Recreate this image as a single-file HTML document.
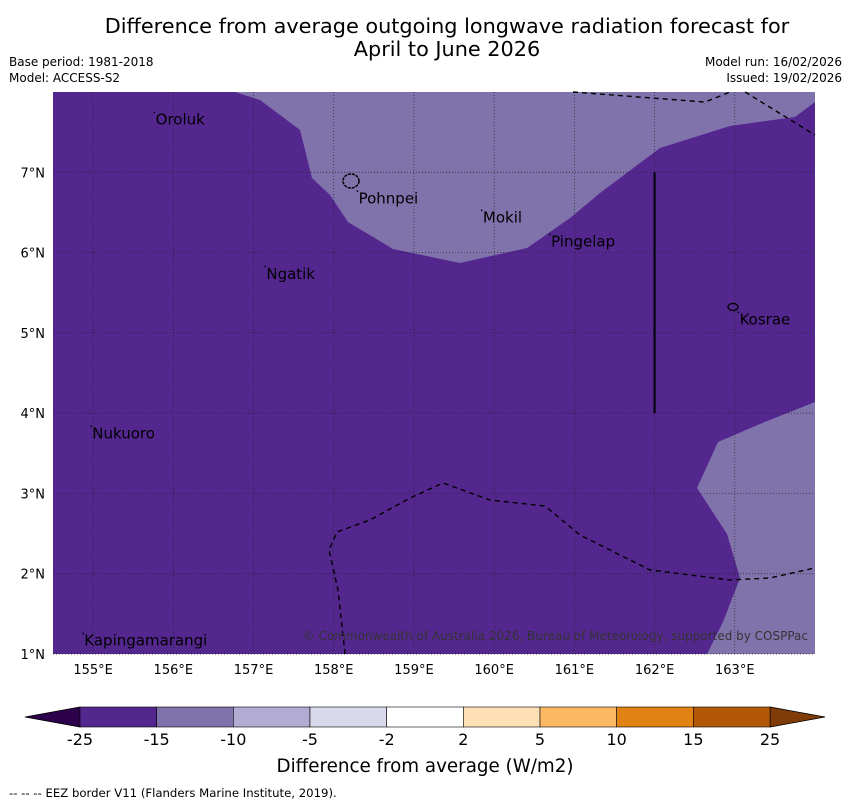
<!DOCTYPE html>
<html><head><meta charset="utf-8"><style>
body{margin:0;background:#fff;font-family:"DejaVu Sans","Liberation Sans",sans-serif}
svg{display:block}
</style></head><body>
<svg width="850" height="804" xmlns="http://www.w3.org/2000/svg" font-family="DejaVu Sans, Liberation Sans, sans-serif">
<text x="447" y="33" font-size="20.8" text-anchor="middle">Difference from average outgoing longwave radiation forecast for</text>
<text x="447" y="56" font-size="20.8" text-anchor="middle">April to June 2026</text>
<text x="9" y="66" font-size="12">Base period: 1981-2018</text>
<text x="9" y="82" font-size="12">Model: ACCESS-S2</text>
<text x="842" y="66" font-size="12" text-anchor="end">Model run: 16/02/2026</text>
<text x="842" y="82" font-size="12" text-anchor="end">Issued: 19/02/2026</text>
<g id="map"></g>
<g id="cbar"></g>
<text x="425" y="772" font-size="18.3" text-anchor="middle">Difference from average (W/m2)</text>
<text x="9" y="797" font-size="11.7">--  --  -- EEZ border V11 (Flanders Marine Institute, 2019).</text>
</svg>
<script>
const lonTicks=[155,156,157,158,159,160,161,162,163];
const latTicks=[1,2,3,4,5,6,7];
const levels=["-25","-15","-10","-5","-2","2","5","10","15","25"];
const levelColors=["#54278f","#8073ac","#b2abd2","#d8daeb","#ffffff","#fee0b6","#fdb863","#e08214","#b35806"];
const islandNames=["Oroluk","Pohnpei","Mokil","Pingelap","Ngatik","Kosrae","Nukuoro","Kapingamarangi"];
const islandLon=[155.78,158.31,159.86,160.71,157.16,163.06,154.99,154.89];
const islandLat=[7.73,6.75,6.51,6.21,5.81,5.24,3.82,1.24];
const lightTopLon=[156.769,157.081,157.580,157.729,157.954,158.178,158.739,159.574,160.410,160.946,161.320,162.068,162.941,163.751,164.0,164.0];
const lightTopLat=[8.0,7.90,7.527,6.929,6.717,6.381,6.045,5.870,6.057,6.431,6.742,7.303,7.577,7.689,7.875,8.0];
const lightBRLon=[164.0,163.314,162.791,162.529,162.903,163.065,162.853,162.654,164.0];
const lightBRLat=[4.139,3.865,3.641,3.068,2.495,1.947,1.399,1.0,1.0];
const eezTopLon=[160.983,162.629,162.941];
const eezTopLat=[8.0,7.875,8.0];
const eezTop2Lon=[163.128,164.0];
const eezTop2Lat=[8.0,7.464];
const eezBotLon=[158.141,158.053,157.941,158.041,158.452,158.951,159.362,159.948,160.634,161.070,161.943,162.941,163.439,164.0];
const eezBotLat=[1.0,1.797,2.296,2.520,2.669,2.943,3.130,2.918,2.844,2.482,2.047,1.922,1.947,2.072];
const ns="http://www.w3.org/2000/svg";
const X0=53,X1=815,Y0=92,Y1=654,LON0=154.5,LON1=164.0,LAT0=1.0,LAT1=8.0;
const xs=l=>X0+(l-LON0)/(LON1-LON0)*(X1-X0);
const ys=l=>Y1-(l-LAT0)/(LAT1-LAT0)*(Y1-Y0);
function mk(t,a,p){const e=document.createElementNS(ns,t);for(const k in a)e.setAttribute(k,a[k]);p.appendChild(e);return e;}
const map=document.getElementById('map');
let r=mk('rect',{x:X0,y:Y0,width:X1-X0,height:Y1-Y0,fill:'#54278f'},map);


const pts=(a,b)=>a.map((v,i)=>xs(v)+','+ys(b[i])).join(' ');
let p1=mk('polygon',{points:pts(lightTopLon,lightTopLat),fill:'#8073ac'},map);


let p2=mk('polygon',{points:pts(lightBRLon,lightBRLat),fill:'#8073ac'},map);


lonTicks.forEach(l=>{
 let g=mk('line',{x1:xs(l),x2:xs(l),y1:Y0,y2:Y1,stroke:'#222',"stroke-width":0.7,"stroke-dasharray":"1,2"},map);
 
 
 let t=mk('text',{x:xs(l),y:674,"font-size":13,"text-anchor":"middle"},map);t.textContent=l+'°E';
 
 
});
latTicks.forEach(l=>{
 let g=mk('line',{x1:X0,x2:X1,y1:ys(l),y2:ys(l),stroke:'#222',"stroke-width":0.7,"stroke-dasharray":"1,2"},map);
 
 
 let t=mk('text',{x:45,y:ys(l)+5,"font-size":13,"text-anchor":"end"},map);t.textContent=l+'°N';
 
 
});
[[eezTopLon,eezTopLat],[eezTop2Lon,eezTop2Lat],[eezBotLon,eezBotLat]].forEach(([a,b])=>{
 let l=mk('polyline',{points:pts(a,b),fill:'none',stroke:'#000',"stroke-width":1.4,"stroke-dasharray":"5,4","stroke-linejoin":"round"},map);
 
 
});
let vl=mk('line',{x1:xs(162),x2:xs(162),y1:ys(7),y2:ys(4),stroke:'#000',"stroke-width":2},map);


let po=mk('ellipse',{cx:351,cy:181,rx:8,ry:7,fill:'none',stroke:'#000',"stroke-width":1.5,"stroke-dasharray":"3,1"},map);


let ko=mk('ellipse',{cx:733,cy:307,rx:5,ry:3.5,fill:'none',stroke:'#000',"stroke-width":1.3},map);


islandNames.forEach((n,i)=>{
 const x=xs(islandLon[i]),y=ys(islandLat[i]);
 let d=mk('rect',{x:x-2,y:y-2,width:1.5,height:1.5,fill:'#000'},map);
 
 
 let t=mk('text',{x:x,y:y+11,"font-size":15},map);t.textContent=n;
 
 
});
let cp=mk('text',{x:808,y:640,"font-size":12,"text-anchor":"end",fill:'#333'},map);
cp.textContent='© Commonwealth of Australia 2026, Bureau of Meteorology, supported by COSPPac';


const cb=document.getElementById('cbar');
const CX0=80,CX1=770,CY=707,CH=20,w=(CX1-CX0)/levelColors.length;
let la=mk('polygon',{points:`25,${CY+CH/2} ${CX0},${CY} ${CX0},${CY+CH}`,fill:'#2d004b',stroke:'#000',"stroke-width":0.8},cb);


let ra=mk('polygon',{points:`825,${CY+CH/2} ${CX1},${CY} ${CX1},${CY+CH}`,fill:'#7f3b08',stroke:'#000',"stroke-width":0.8},cb);


levelColors.forEach((c,i)=>{
 let s=mk('rect',{x:CX0+i*w,y:CY,width:w,height:CH,fill:c,stroke:'#000',"stroke-width":0.6},cb);
 
 
});
levels.forEach((v,i)=>{
 let t=mk('text',{x:CX0+i*w,y:745,"font-size":16,"text-anchor":"middle"},cb);t.textContent=v;
 
 
});
</script>
</body></html>
